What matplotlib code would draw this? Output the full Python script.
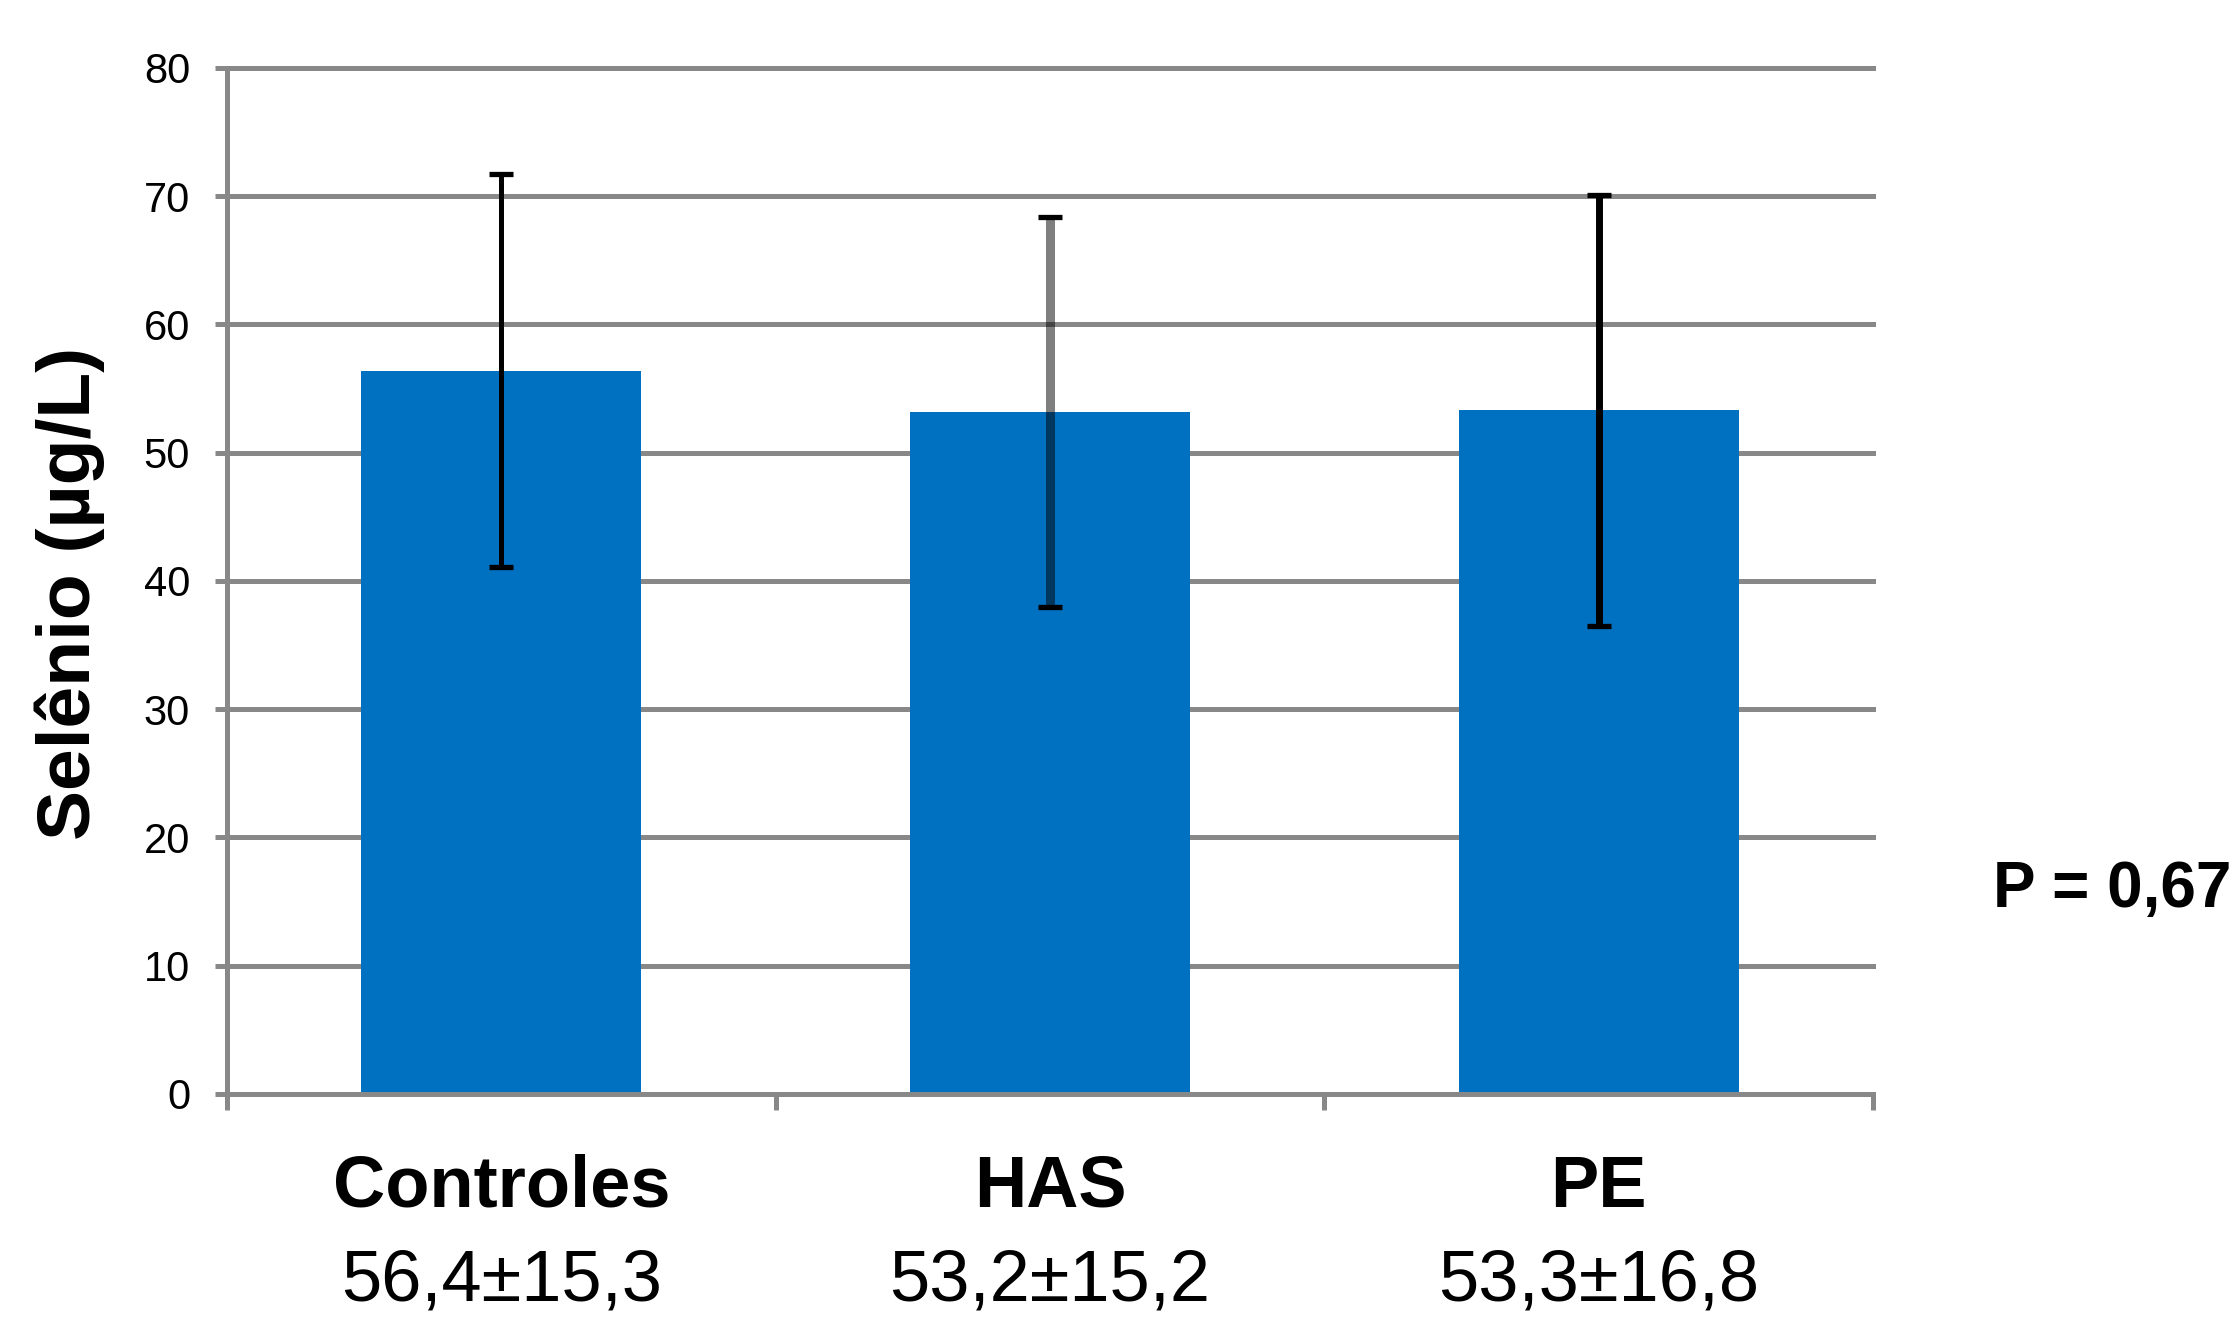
import matplotlib.pyplot as plt
import matplotlib.transforms as mtransforms
import numpy as np

# selenium by group (mean ± sd)
groups = ['Controles', 'HAS', 'PE']
means = [56.4, 53.2, 53.3]
sds = [15.3, 15.2, 16.8]
yticks = [0, 10, 20, 30, 40, 50, 60, 70, 80]
p_value = '0,67'

font = ['Liberation Sans', 'DejaVu Sans']
grey = '#888888'

fig = plt.figure(figsize=(22.39, 13.22), dpi=100)
ax = fig.add_axes([0.1014, 0.1725, 0.7351, 0.7761])

x = np.arange(len(groups))
ax.bar(x, means, width=0.51, color='#0070C0', zorder=2)

# error bars: middle one is drawn semi-transparent like the original
stem_colors = ['black', (0, 0, 0, 0.5), 'black']
stem_widths = [3.6, 6.5, 5.0]
for i in range(len(groups)):
    eb = ax.errorbar(x[i], means[i], yerr=sds[i], fmt='none',
                     ecolor=stem_colors[i], elinewidth=stem_widths[i],
                     capsize=8.6, capthick=3.8, zorder=3)
    for cap in eb[1]:
        cap.set_markeredgecolor('black')
        cap.set_markerfacecolor('black')

ax.set_xlim(-0.5, len(groups) - 0.5)
ax.set_ylim(0, 80)
ax.set_yticks(yticks)
ax.set_xticks(np.arange(len(groups) + 1) - 0.5)
ax.set_xticklabels([])

ax.set_axisbelow(True)
ax.yaxis.grid(True, color=grey, linewidth=3.6)
for gl in ax.get_ygridlines():
    gl.set_clip_on(False)

for side in ['top', 'right']:
    ax.spines[side].set_visible(False)
for side in ['left', 'bottom']:
    ax.spines[side].set_color(grey)
    ax.spines[side].set_linewidth(3.6)

ax.tick_params(axis='y', length=8.6, width=3.6, color=grey, pad=18,
               labelsize=30)
ax.tick_params(axis='x', length=11.5, width=3.6, color=grey)
for lbl in ax.get_yticklabels():
    lbl.set_family(font)

trans = mtransforms.blended_transform_factory(ax.transData, ax.transAxes)
for i, g in enumerate(groups):
    ax.text(x[i], -0.110, g, transform=trans, ha='center', va='baseline',
            fontsize=52, fontweight='bold', family=font)
    summary = f'{means[i]:.1f}±{sds[i]:.1f}'.replace('.', ',')
    ax.text(x[i], -0.2015, summary, transform=trans, ha='center',
            va='baseline', fontsize=52, family=font)

fig.text(70 / 2239, 1 - 593 / 1322, 'Selênio (µg/L)', rotation=90,
         ha='center', va='center', fontsize=54, fontweight='bold',
         family=font)
fig.text(0.890, 0.314, 'P = ' + p_value, ha='left', va='baseline',
         fontsize=46, fontweight='bold', family=font)

fig.savefig('out.png', dpi=100)
